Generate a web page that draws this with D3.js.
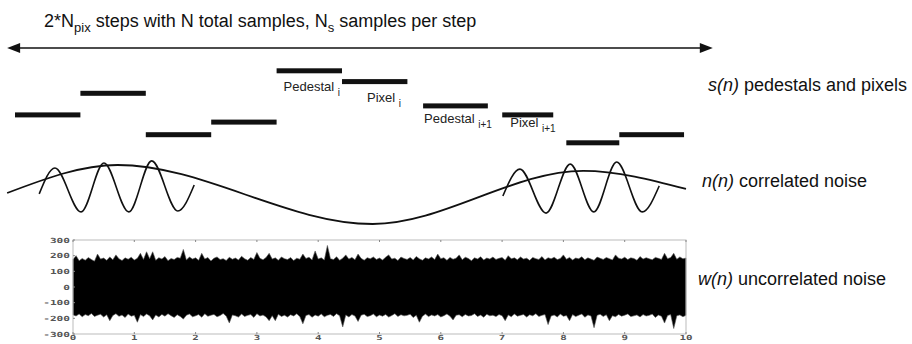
<!DOCTYPE html>
<html>
<head>
<meta charset="utf-8">
<script src="https://cdn.jsdelivr.net/npm/d3@7"></script>
<style>
  body { margin: 0; background: #fff; }
  svg { display: block; font-family: "Liberation Sans", Arial, sans-serif; }
</style>
</head>
<body>
<svg id="chart-svg" width="912" height="344"></svg>
<script>
// s(n) steps: [start step, end step, level]
var barSteps = [
  [0, 1, 3.9], [1, 2, 6.3], [2, 3, 1.7], [3, 4, 3.1], [4, 5, 8.8],
  [5, 6, 7.6], [6.24, 7.23, 4.9], [7.45, 8.23, 3.9], [8.43, 9.24, 0.8], [9.24, 10.23, 1.7]
];
var barLabels = [
  { bar: 4, text: "Pedestal", sub: "i", dx: 7, dy: 20.5 },
  { bar: 5, text: "Pixel", sub: "i", dx: 25, dy: 20.5 },
  { bar: 6, text: "Pedestal", sub: "i+1", dx: 1, dy: 17.5 },
  { bar: 7, text: "Pixel", sub: "i+1", dx: 8, dy: 12.5 }
];

// n(n) correlated noise: extremes [step, amplitude]
var slowWave = [[-0.12, 0.05], [1.57, 1.0], [5.47, -1.0], [8.69, 0.80], [10.26, 0.19]];
var fastWaveA = [[0.37, 0.02], [0.61, 0.90], [1.01, -0.59], [1.36, 1.07], [1.74, -0.59],
                 [2.09, 1.14], [2.49, -0.56], [2.74, 0.32]];
var fastWaveB = [[7.46, -0.05], [7.72, 0.86], [8.12, -0.63], [8.49, 1.03], [8.85, -0.59],
                 [9.20, 1.10], [9.59, -0.59], [9.85, 0.29]];

// w(n) uncorrelated noise envelope, every 0.05 on the x axis
var noiseTop = [
  175,200,168,182,171,188,176,165,210,178,185,170,192,174,205,180,169,186,177,190,
  172,183,215,176,225,181,225,170,187,179,194,168,182,175,189,184,240,173,191,178,
  186,170,215,179,188,166,184,192,175,181,169,190,177,185,172,196,180,171,188,176,
  220,183,174,189,215,178,186,170,192,181,175,188,169,184,177,210,182,190,173,230,
  179,186,172,265,181,175,193,170,184,205,178,189,174,210,183,171,187,180,192,176,
  185,172,190,205,178,184,169,191,182,176,188,173,195,180,171,186,179,192,175,210,
  181,187,170,189,177,184,205,174,190,182,168,186,179,193,172,185,178,191,176,183,
  188,171,200,180,186,174,192,178,184,170,189,181,176,194,173,187,180,190,175,182,
  205,177,189,172,185,180,193,174,186,178,170,191,183,176,188,181,173,205,184,179,
  190,175,186,182,171,194,178,187,180,174,189,183,176,215,181,188,215,177,192,180,
  185
];
var noiseBottom = [
  178,185,172,190,176,183,169,188,180,174,192,177,215,182,170,187,179,195,173,186,
  181,225,176,189,172,184,210,178,191,175,186,170,183,194,177,188,205,180,172,190,
  184,176,193,171,187,180,175,190,182,169,186,230,178,184,192,173,188,181,176,194,
  170,185,179,191,215,183,215,174,188,180,192,177,185,171,189,235,182,176,193,179,
  186,172,190,181,175,188,170,184,255,178,191,176,185,220,180,174,189,183,172,190,
  179,186,175,192,182,170,188,177,184,181,174,195,180,225,187,173,189,178,185,176,
  191,183,172,186,210,180,177,190,175,185,182,171,188,179,193,174,184,180,189,176,
  183,215,178,190,172,186,181,175,192,177,184,170,188,181,176,240,185,179,191,173,
  187,182,215,176,189,180,172,193,178,185,260,181,174,188,177,215,183,190,175,186,
  180,172,189,184,178,191,176,185,181,173,194,179,187,230,182,176,265,184,178,190,
  181
];
var noiseXTicks = [0, 1, 2, 3, 4, 5, 6, 7, 8, 9, 10];
var noiseYTicks = [-300, -200, -100, 0, 100, 200, 300];
var arrowSpan = [-0.12, 10.67];

var svg = d3.select("#chart-svg");

var xStep = d3.scaleLinear().domain([0, 10]).range([15, 669]);
var yLevel = d3.scaleLinear().domain([0, 10]).range([150, 60]);
var yWave = d3.scaleLinear().domain([-1, 1]).range([224, 165]);
var xNoise = d3.scaleLinear().domain([0, 10]).range([73, 686]);
var yNoise = d3.scaleLinear().domain([-300, 300]).range([334, 240]);

// title + double arrow
var title = svg.append("text").attr("x", 44).attr("y", 27)
  .attr("font-size", 18).attr("fill", "#111");
title.append("tspan").text("2*N");
title.append("tspan").attr("font-size", 13).attr("dy", 5).text("pix");
title.append("tspan").attr("dy", -5).text(" steps with N total samples, N");
title.append("tspan").attr("font-size", 13).attr("dy", 5).text("s");
title.append("tspan").attr("dy", -5).text(" samples per step");

var ax0 = xStep(arrowSpan[0]), ax1 = xStep(arrowSpan[1]), ay = 48;
svg.append("line").attr("x1", ax0 + 8).attr("x2", ax1 - 8).attr("y1", ay).attr("y2", ay)
  .attr("stroke", "#111").attr("stroke-width", 1.6);
svg.append("path").attr("fill", "#111")
  .attr("d", `M${ax0},${ay} L${ax0 + 13},${ay - 5} L${ax0 + 13},${ay + 5} Z`);
svg.append("path").attr("fill", "#111")
  .attr("d", `M${ax1},${ay} L${ax1 - 13},${ay - 5} L${ax1 - 13},${ay + 5} Z`);

// s(n) bars
svg.selectAll(".bar").data(barSteps).enter().append("rect")
  .attr("class", "bar")
  .attr("x", d => xStep(d[0]))
  .attr("width", d => xStep(d[1]) - xStep(d[0]))
  .attr("y", d => yLevel(d[2]) - 2.5)
  .attr("height", 5)
  .attr("fill", "#111");

var lab = svg.selectAll(".blabel").data(barLabels).enter().append("text")
  .attr("class", "blabel")
  .attr("x", d => xStep(barSteps[d.bar][0]) + d.dx)
  .attr("y", d => yLevel(barSteps[d.bar][2]) + d.dy)
  .attr("font-size", 13).attr("fill", "#222");
lab.append("tspan").text(d => d.text + " ");
lab.append("tspan").attr("font-size", 10).attr("dy", 5).text(d => d.sub);

// n(n) waves
var waveLine = d3.line()
  .x(d => xStep(d[0]))
  .y(d => yWave(d[1]))
  .curve(d3.curveMonotoneX);
svg.append("path").datum(slowWave).attr("d", waveLine)
  .attr("fill", "none").attr("stroke", "#111").attr("stroke-width", 1.8);
[fastWaveA, fastWaveB].forEach(function(w) {
  svg.append("path").datum(w).attr("d", waveLine)
    .attr("fill", "none").attr("stroke", "#111").attr("stroke-width", 1.6);
});

// w(n) noise panel
var noisePts = noiseTop.map((v, i) => ({ x: i * 0.05, hi: v, lo: -noiseBottom[i] }));
svg.append("path").datum(noisePts)
  .attr("d", d3.area().x(d => xNoise(d.x)).y0(d => yNoise(d.lo)).y1(d => yNoise(d.hi)))
  .attr("fill", "#000").attr("stroke", "#555").attr("stroke-width", 0.6);

svg.append("rect")
  .attr("x", xNoise(0)).attr("y", yNoise(300))
  .attr("width", xNoise(10) - xNoise(0)).attr("height", yNoise(-300) - yNoise(300))
  .attr("fill", "none").attr("stroke", "#bbb").attr("stroke-width", 1);

svg.selectAll(".xt").data(noiseXTicks).enter().append("path")
  .attr("class", "xt")
  .attr("d", d => `M${xNoise(d)},${yNoise(300)}v2M${xNoise(d)},${yNoise(-300)}v-2`)
  .attr("stroke", "#888");
svg.selectAll(".yt").data(noiseYTicks).enter().append("path")
  .attr("class", "yt")
  .attr("d", d => `M${xNoise(0)},${yNoise(d)}h2`)
  .attr("stroke", "#888");

svg.selectAll(".ytl").data(noiseYTicks).enter().append("text")
  .attr("class", "ytl")
  .attr("x", xNoise(0) - 3).attr("y", d => yNoise(d) + 2.5)
  .attr("text-anchor", "end")
  .attr("font-family", "DejaVu Sans Mono").attr("font-weight", "bold")
  .attr("font-size", 7).attr("fill", "#555")
  .attr("textLength", d => String(d).length * 6.7).attr("lengthAdjust", "spacingAndGlyphs")
  .text(d => d);
svg.selectAll(".xtl").data(noiseXTicks).enter().append("text")
  .attr("class", "xtl")
  .attr("x", d => xNoise(d)).attr("y", yNoise(-300) + 6)
  .attr("text-anchor", "middle")
  .attr("font-family", "DejaVu Sans Mono").attr("font-weight", "bold")
  .attr("font-size", 7).attr("fill", "#555")
  .attr("textLength", d => String(d).length * 6.5).attr("lengthAdjust", "spacingAndGlyphs")
  .text(d => d);

// right-hand labels
var rlabels = [
  { x: 708, y: 91, it: "s(n)", rest: " pedestals and pixels" },
  { x: 702, y: 187, it: "n(n)", rest: " correlated noise" },
  { x: 698, y: 285, it: "w(n)", rest: " uncorrelated noise" }
];
var rl = svg.selectAll(".rlab").data(rlabels).enter().append("text")
  .attr("class", "rlab")
  .attr("x", d => d.x).attr("y", d => d.y)
  .attr("font-size", 18).attr("fill", "#111");
rl.append("tspan").attr("font-style", "italic").text(d => d.it);
rl.append("tspan").text(d => d.rest);
</script>
</body>
</html>
